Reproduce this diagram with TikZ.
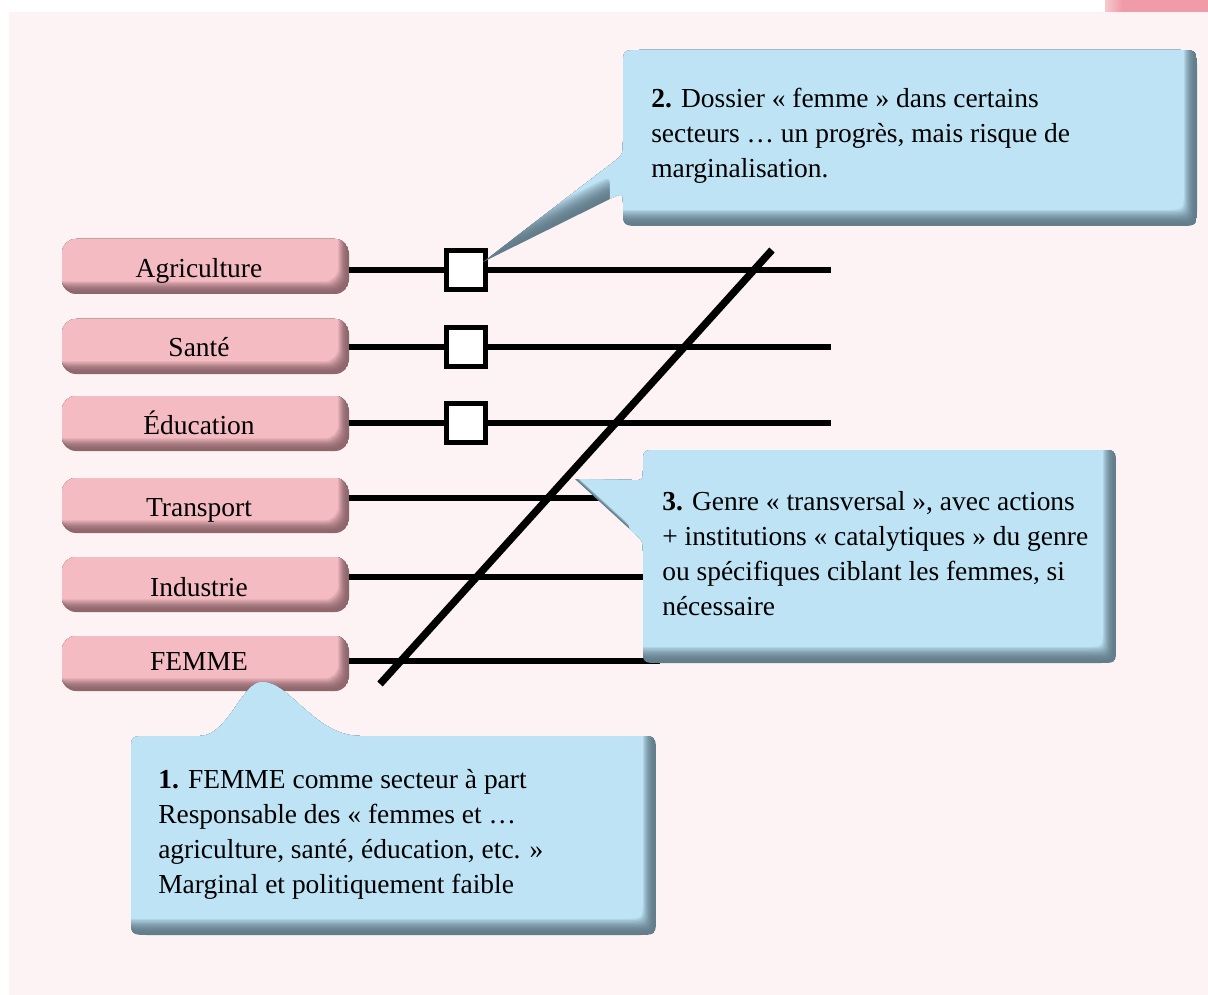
\documentclass[tikz,border=0pt]{standalone}
\usepackage{fontspec}
\setmainfont{Liberation Serif}
\usetikzlibrary{calc}
\definecolor{bgpink}{HTML}{FEF3F4}
\definecolor{tabpink}{HTML}{F09CA8}
\definecolor{boxpink}{HTML}{F4BBC2}
\definecolor{boxpinkdk}{HTML}{8E666C}
\definecolor{calblue}{HTML}{BDE3F5}
\definecolor{calbluedk}{HTML}{637D8B}
\newcommand{\bevelfill}[5]{%
  \begin{scope}
    \clip #1;
    \fill[#3] #1;
    \foreach \i in {1,...,12}{
      \pgfmathsetmacro{\pc}{100*(\i/12)^2}
      \fill[color=#2!\pc!#3, shift={(-#4*\i,-#5*\i)}] #1;
    }
  \end{scope}}
\begin{document}
\begin{tikzpicture}[x=0.75pt,y=-0.75pt,
  hline/.style={line width=4pt},
  diag/.style={line width=5.5pt},
  sqbox/.style={draw, line width=3.75pt, fill=white, minimum size=29.25pt, inner sep=0pt},
  sector/.style={minimum width=225pt, inner sep=0pt, anchor=base, font=\fontsize{20.6pt}{24pt}\selectfont},
  ctext/.style={align=left, anchor=north west, inner sep=0pt, font=\fontsize{20.6pt}{26.25pt}\selectfont}]
\useasboundingbox (0,0) rectangle (1208,995);
\fill[white] (0,0) rectangle (1208,995);
\fill[bgpink] (9,12) rectangle (1208,995);
\fill[tabpink] (1105,0) rectangle (1208,12);
\shade[left color=tabpink!55!white, right color=tabpink] (1105,0) rectangle (1122,12);
% sector boxes
\foreach \t in {239,319,396,478,557,636}{
  \bevelfill{[rounded corners=10.5pt] (62,\t) rectangle (349,\t+55)}{boxpink}{boxpinkdk}{0.9}{1.05}
}
\node[sector] (agr) at (199,277) {Agriculture};
\node[sector] (san) at (199,357) {Santé};
\node[sector] (edu) at (199,434) {Éducation};
\node[sector] (tra) at (199,516) {Transport};
\node[sector] (ind) at (199,596) {Industrie};
\node[sector] (fem) at (199,670) {FEMME};
% squares
\node[sqbox] (sq1) at (465.5,270) {};
\node[sqbox] (sq2) at (465.5,347) {};
\node[sqbox] (sq3) at (465.5,423) {};
% line ends
\coordinate (e1) at (831,270);
\coordinate (e2) at (831,347);
\coordinate (e3) at (831,423);
\coordinate (e4) at (660,498);
\coordinate (e5) at (660,577);
\coordinate (e6) at (660,661);
\draw[hline] (agr.east |- sq1) -- (sq1.west);
\draw[hline] (sq1.east) -- (e1);
\draw[hline] (san.east |- sq2) -- (sq2.west);
\draw[hline] (sq2.east) -- (e2);
\draw[hline] (edu.east |- sq3) -- (sq3.west);
\draw[hline] (sq3.east) -- (e3);
\draw[hline] (tra.east |- e4) -- (e4);
\draw[hline] (ind.east |- e5) -- (e5);
\draw[hline] (fem.east |- e6) -- (e6);
% diagonal
\coordinate (d1) at (380,684);
\coordinate (d2) at (772,250);
\draw[diag] (d1) -- (d2);
% callout 3
\bevelfill{(575,479) -- (632,480) .. controls (643,480.5) .. (643,470) -- (643,466) .. controls (643,450) .. (659,450) -- (1100,450) .. controls (1116,450) .. (1116,466) -- (1116,647) .. controls (1116,663) .. (1100,663) -- (659,663) .. controls (643,663) .. (643,647) -- (643,552) .. controls (643,541) .. (634,533) -- cycle}{calblue}{calbluedk}{1.1}{1.35}
% callout 2
\bevelfill{(483,262) -- (611,164) .. controls (623,155) .. (623,141) -- (623,68) .. controls (623,50) .. (641,50) -- (1179,50) .. controls (1197,50) .. (1197,68) -- (1197,208) .. controls (1197,226) .. (1179,226) -- (641,226) .. controls (623,226) .. (623,208) -- (623,203) .. controls (623,193) .. (613,197.5) -- cycle}{calblue}{calbluedk}{1.1}{1.35}
% callout 1
\bevelfill{(200,736) -- (149,736) .. controls (131,736) .. (131,754) -- (131,917) .. controls (131,935) .. (149,935) -- (638,935) .. controls (656,935) .. (656,917) -- (656,754) .. controls (656,736) .. (638,736) -- (360,736) .. controls (315,736) and (290,682) .. (262,682) .. controls (242,682) and (228,736) .. (200,736) -- cycle}{calblue}{calbluedk}{1.1}{1.35}
% callout texts
\node[ctext] (c2) at (651,88) {\textbf{2.} Dossier « femme » dans certains\\secteurs … un progrès, mais risque de\\marginalisation.};
\node[ctext] (c3) at (662,491) {\textbf{3.} Genre « transversal », avec actions\\+ institutions « catalytiques » du genre\\ou spécifiques ciblant les femmes, si\\nécessaire};
\node[ctext] (c1) at (158,769) {\textbf{1.} FEMME comme secteur à part\\Responsable des « femmes et …\\agriculture, santé, éducation, etc. »\\Marginal et politiquement faible};
\end{tikzpicture}
\end{document}
